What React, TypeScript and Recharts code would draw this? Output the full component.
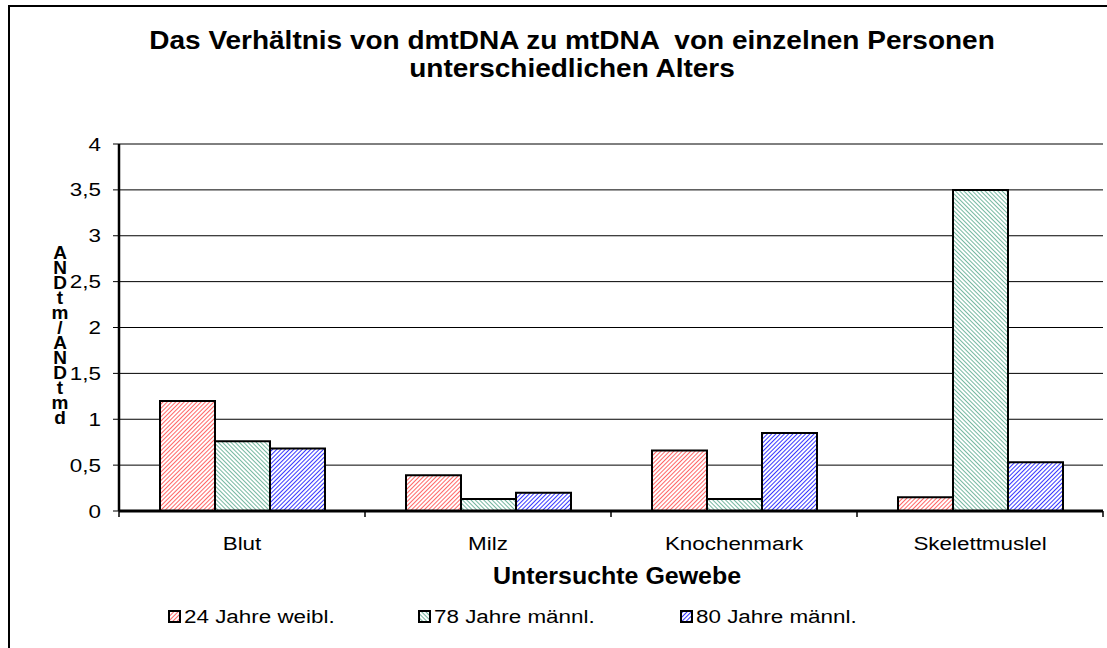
import React from "react";
import { BarChart, Bar, XAxis, YAxis, CartesianGrid } from "recharts";

const categories = ["Blut", "Milz", "Knochenmark", "Skelettmuslel"];
const seriesNames = ["24 Jahre weibl.", "78 Jahre männl.", "80 Jahre männl."];
const values24w = [1.2, 0.39, 0.66, 0.15];
const values78m = [0.76, 0.13, 0.13, 3.5];
const values80m = [0.68, 0.2, 0.85, 0.53];
const yTicks = [0, 0.5, 1, 1.5, 2, 2.5, 3, 3.5, 4];
const yLabel = "dmtDNA/mtDNA";
const titleLines = [
  "Das Verhältnis von dmtDNA zu mtDNA  von einzelnen Personen",
  "unterschiedlichen Alters",
];
const xTitle = "Untersuchte Gewebe";

const data = categories.map((c, i) => ({
  name: c,
  s1: values24w[i],
  s2: values78m[i],
  s3: values80m[i],
}));

const W = 1107;
const H = 648;
const M = { top: 144, right: 4, left: 59, bottom: 107 };
const Y_AXIS_W = 60;
const PLOT_LEFT = M.left + Y_AXIS_W;
const PLOT_W = W - PLOT_LEFT - M.right;
const HALF_BAND = PLOT_W / categories.length / 2;
const FONT = "'Liberation Sans', Arial, sans-serif";
const fills = ["url(#hRed)", "url(#hGreen)", "url(#hBlue)"];
const SX = 1.18;

const ST = (p: any) => {
  const { x, y, sx = SX, size = 19, bold = false, anchor = "start", children } = p;
  return (
    <g transform={`translate(${x},${y}) scale(${sx},1)`}>
      <text x={0} y={0} textAnchor={anchor} fontFamily={FONT} fontWeight={bold ? "bold" : "normal"} fontSize={size} fill="#000" style={{ whiteSpace: "pre" }}>
        {children}
      </text>
    </g>
  );
};

const XTick = (props: any) => {
  const { x, y, payload, index } = props;
  const last = index === categories.length - 1;
  return (
    <g>
      <line x1={x - HALF_BAND} x2={x - HALF_BAND} y1={y - 8} y2={y - 2} stroke="#000" strokeWidth={1.5} />
      {last && <line x1={x + HALF_BAND} x2={x + HALF_BAND} y1={y - 8} y2={y - 2} stroke="#000" strokeWidth={1.5} />}
      <ST x={x} y={y + 31} anchor="middle">{payload.value}</ST>
    </g>
  );
};

const YTick = (props: any) => {
  const { x, y, payload } = props;
  return (
    <ST x={x} y={y + 6.5} anchor="end">
      {String(payload.value).replace(".", ",")}
    </ST>
  );
};

const Patterns = () => (
  <svg width={0} height={0} style={{ position: "absolute" }}>
    <defs>
      <pattern id="hRed" patternUnits="userSpaceOnUse" width={3} height={3} patternTransform="rotate(45)">
        <rect width={3} height={3} fill="#fff" />
        <line x1={0} y1={0} x2={0} y2={3} stroke="#ff4040" strokeWidth={1.6} />
      </pattern>
      <pattern id="hGreen" patternUnits="userSpaceOnUse" width={3} height={3} patternTransform="rotate(-45)">
        <rect width={3} height={3} fill="#fff" />
        <line x1={0} y1={0} x2={0} y2={3} stroke="#3a9a78" strokeWidth={1.4} />
      </pattern>
      <pattern id="hBlue" patternUnits="userSpaceOnUse" width={3} height={3} patternTransform="rotate(45)">
        <rect width={3} height={3} fill="#fff" />
        <line x1={0} y1={0} x2={0} y2={3} stroke="#2020ff" strokeWidth={1.8} />
      </pattern>
    </defs>
  </svg>
);

export default function App() {
  const legendX = [169, 419, 681];
  const chars = yLabel.split("").reverse();
  return (
    <div style={{ position: "absolute", left: 0, top: 0, width: W, height: H, background: "#fff", overflow: "hidden", fontFamily: FONT }}>
      <Patterns />
      <div style={{ position: "absolute", left: 8, top: 5, width: W + 20, height: H + 20, border: "2px solid #000", boxSizing: "border-box" }} />
      <svg width={W} height={H} style={{ position: "absolute", left: 0, top: 0 }}>
        {titleLines.map((t, i) => (
          <ST key={i} x={572} y={49 + i * 28} sx={1.12} size={25} bold anchor="middle">
            {t}
          </ST>
        ))}
        <text textAnchor="middle" fontFamily={FONT} fontWeight="bold" fontSize={19} fill="#000">
          {chars.map((ch, i) => (
            <tspan key={i} x={60} y={259 + i * 15}>
              {ch}
            </tspan>
          ))}
        </text>
        <ST x={617} y={584} sx={1.04} size={24} bold anchor="middle">
          {xTitle}
        </ST>
        {seriesNames.map((n, i) => (
          <g key={n}>
            <rect x={legendX[i]} y={611} width={11} height={11} fill={fills[i]} stroke="#000" strokeWidth={2} />
            <ST x={legendX[i] + 15} y={623}>{n}</ST>
          </g>
        ))}
      </svg>
      <div style={{ position: "absolute", left: 0, top: 0 }}>
        <BarChart width={W} height={H} data={data} margin={M} barGap={0} barSize={55}>
          <CartesianGrid vertical={false} stroke="#000" strokeWidth={1} />
          <XAxis
            dataKey="name"
            height={30}
            axisLine={{ stroke: "#000", strokeWidth: 3 }}
            tickLine={false}
            tick={<XTick />}
            interval={0}
          />
          <YAxis
            width={Y_AXIS_W}
            domain={[0, 4]}
            ticks={yTicks}
            interval={0}
            axisLine={{ stroke: "#000", strokeWidth: 2.5 }}
            tickLine={{ stroke: "#000", strokeWidth: 1 }}
            tickSize={6}
            tickMargin={12}
            tick={<YTick />}
          />
          <Bar dataKey="s1" name={seriesNames[0]} fill={fills[0]} stroke="#000" strokeWidth={2} isAnimationActive={false} />
          <Bar dataKey="s2" name={seriesNames[1]} fill={fills[1]} stroke="#000" strokeWidth={2} isAnimationActive={false} />
          <Bar dataKey="s3" name={seriesNames[2]} fill={fills[2]} stroke="#000" strokeWidth={2} isAnimationActive={false} />
        </BarChart>
      </div>
    </div>
  );
}
